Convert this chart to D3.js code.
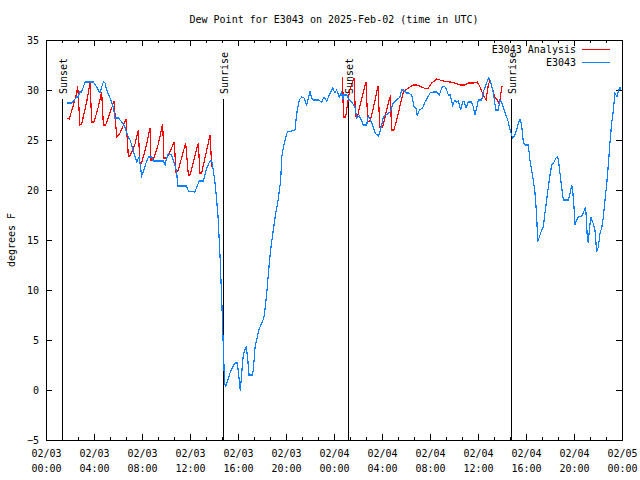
<!DOCTYPE html>
<html><head><meta charset="utf-8">
<script src="https://cdn.jsdelivr.net/npm/d3@7"></script>
<style>
body{margin:0;background:#fff;}
text{font-family:"DejaVu Sans Mono",monospace;font-size:10px;fill:#000;}
</style></head><body>
<svg id="c" width="640" height="480"></svg>
<script>
// ---- data (hours since 2025-02-03 00:00 UTC) ----
const obsHours = [1.78,2.14,2.28,2.56,2.69,2.83,2.97,3.11,3.25,3.94,4.22,4.5,4.64,4.78,4.92,5.06,5.33,5.61,5.75,6.03,6.31,6.58,6.86,7.0,7.22,7.42,7.56,7.75,7.83,7.97,8.11,8.33,8.53,8.81,8.94,9.78,9.92,10.06,10.19,10.47,10.61,10.75,10.89,10.97,11.72,11.86,12.42,12.56,12.78,13.11,13.39,13.67,13.81,13.94,14.08,14.22,14.36,14.44,14.53,14.61,14.69,14.75,14.81,14.86,14.94,15.11,15.33,15.56,15.75,15.94,16.08,16.19,16.31,16.44,16.58,16.67,16.78,16.92,17.19,17.28,17.42,17.56,17.69,17.83,18.03,18.17,18.31,18.44,18.58,18.72,18.86,19.0,19.14,19.28,19.42,19.56,19.64,19.78,19.92,20.11,20.75,20.83,20.94,21.11,21.31,21.5,21.72,21.86,22.0,22.14,22.28,22.69,22.97,23.17,23.39,23.61,23.89,24.08,24.22,24.44,24.64,24.72,24.83,25.06,25.28,25.47,25.75,25.89,26.11,26.31,26.44,26.72,26.86,27.0,27.28,27.42,27.69,27.83,27.97,28.11,28.67,28.94,29.22,29.5,29.64,29.83,30.0,30.19,30.47,30.67,30.83,30.94,31.11,31.39,31.58,31.78,32.0,32.33,32.56,32.78,32.97,33.17,33.33,33.53,33.67,33.89,34.08,34.22,34.36,34.56,34.72,34.83,35.0,35.19,35.47,35.61,35.75,35.89,36.03,36.31,36.5,36.72,36.89,37.0,37.14,37.28,37.42,37.5,37.69,37.83,37.97,38.11,38.39,38.53,38.67,38.89,39.08,39.22,39.36,39.5,39.64,39.78,39.92,40.19,40.33,40.47,40.61,40.75,40.89,40.97,41.11,41.31,41.44,41.58,41.72,41.86,42.0,42.14,42.33,42.5,42.64,42.72,42.83,42.97,43.11,43.53,43.67,43.81,43.89,44.0,44.08,44.22,44.36,44.64,44.78,44.92,45.0,45.11,45.19,45.28,45.39,45.56,45.75,45.89,46.03,46.17,46.31,46.44,46.58,46.72,46.86,47.0,47.14,47.28,47.42,47.58,47.72,47.83,47.92];
const obsValues = [28.7,28.7,28.9,29.3,29.3,29.8,29.8,30.3,30.8,30.8,30.3,29.7,30.3,30.8,30.7,30.0,29.2,28.3,27.2,27.2,26.8,26.3,25.3,25.0,24.2,23.3,22.8,23.3,22.7,21.4,21.8,22.7,23.3,23.3,22.9,22.9,22.5,23.2,23.6,23.5,22.9,22.5,21.8,20.4,20.4,19.9,19.8,20.3,20.9,20.9,22.2,22.9,22.9,22.0,20.8,19.0,17.0,14.8,12.7,10.0,7.5,5.2,3.2,1.2,0.3,0.8,1.7,2.3,2.7,2.7,1.3,-0.1,1.7,3.5,4.0,4.3,3.5,1.5,1.5,2.0,4.3,5.0,5.8,6.3,6.8,7.3,8.7,10.3,12.3,14.0,15.3,16.5,17.7,18.5,19.7,21.0,23.3,24.2,25.0,25.8,26.0,27.0,28.0,29.0,29.3,29.2,28.5,29.2,29.9,29.2,29.0,29.0,28.8,29.3,28.9,29.5,30.2,29.7,30.0,29.3,29.8,29.0,29.5,29.5,29.0,28.8,28.3,27.2,27.4,26.9,26.5,26.5,27.4,27.1,26.3,25.7,25.4,25.8,26.5,27.3,27.8,28.7,29.0,29.3,30.0,30.0,29.7,29.7,29.5,28.3,28.2,27.4,28.0,28.2,28.8,29.2,29.7,29.8,29.8,29.5,30.2,30.4,30.2,29.5,29.5,28.5,29.0,28.8,28.9,28.0,28.8,28.9,28.2,28.8,28.8,28.3,27.5,28.2,29.0,29.0,30.0,30.7,31.2,31.0,30.4,29.7,28.5,28.0,28.0,29.0,28.8,28.2,27.3,26.8,26.0,25.2,25.5,26.0,26.7,27.1,26.5,24.7,24.5,24.5,23.0,22.0,21.0,19.7,17.5,14.8,15.3,16.0,16.3,17.7,19.0,20.3,21.5,22.5,22.8,23.2,23.3,22.8,21.7,20.3,19.0,19.0,19.7,20.5,20.0,18.3,16.5,17.0,17.3,17.4,17.7,18.2,17.7,15.2,14.7,16.0,17.3,16.8,16.0,13.8,14.3,15.7,16.2,17.2,19.0,20.5,22.5,24.8,26.7,28.0,29.7,29.3,30.0,30.3,30.0];

const anaHours1 = [1.78,1.94,2.28,2.56,2.64,2.83,2.97,3.39,3.67,3.81,4.0,4.36,4.64,4.78,4.97,5.33,5.67,5.89,6.17,6.67,6.86,7.0,7.42,7.69,7.83,7.97,8.33,8.67,8.75,8.94,9.36,9.72,9.83,10.06,10.47,10.69,10.83,11.0,11.64,11.86,12.0,12.69,12.83,12.97,13.67,13.81,13.94];
const anaValues1 = [27.2,27.1,28.5,29.7,30.4,26.5,26.6,28.8,30.7,26.8,26.8,28.3,29.8,26.5,26.5,27.7,28.9,25.3,25.7,27.1,23.4,23.4,24.6,26.0,22.7,22.7,24.3,26.2,23.0,23.0,24.6,26.6,23.2,23.2,24.2,24.8,21.8,21.9,24.7,21.5,21.5,24.7,21.7,21.7,25.5,22.4,22.4];
const anaHours2 = [24.72,24.78,24.97,25.28,25.67,25.79,25.97,26.17,26.44,26.67,26.81,27.0,27.28,27.67,27.81,28.06,28.39,28.71,28.79,29.0,29.36,29.78,30.19,30.61,30.89,31.31,31.67,31.86,32.14,32.56,33.11,33.67,34.08,34.5,34.92,35.19,35.61,35.94,36.17,36.44,36.67,36.86,37.0,37.14,37.28,37.42,37.61,37.78,37.89,38.0];
const anaValues2 = [31.3,27.3,27.3,29.8,31.2,27.4,27.4,28.5,29.8,30.8,26.8,26.9,28.2,30.4,26.3,26.3,28.0,29.5,26.0,26.0,27.7,29.8,30.2,30.5,30.5,30.3,30.1,30.2,30.7,31.1,30.9,30.8,30.7,30.5,30.5,30.7,30.7,30.8,30.3,29.5,29.0,30.5,31.0,30.4,29.8,29.3,29.0,28.6,29.5,30.4];

const sunEvents = [
  {label:"Sunset",  time:"2025-02-03T01:19:00Z"},
  {label:"Sunrise", time:"2025-02-03T14:47:00Z"},
  {label:"Sunset",  time:"2025-02-04T01:11:00Z"},
  {label:"Sunrise", time:"2025-02-04T14:44:00Z"}
];
const yTicks = [-5,0,5,10,15,20,25,30,35];
const title = "Dew Point for E3043 on 2025-Feb-02 (time in UTC)";
const yLabel = "degrees F";
const seriesNames = ["E3043 Analysis","E3043"];
const seriesColors = ["#ff0000","#1080ff"];

// ---- chart ----
const t0 = Date.UTC(2025,1,3,0,0);
const toDate = h => new Date(t0 + h*3600000);
const L=46,R=622,T=40,B=440;
const svg = d3.select("#c");
const x = d3.scaleUtc().domain([toDate(0), toDate(48)]).range([L,R]);
const y = d3.scaleLinear().domain([-5,35]).range([B,T]);

const major = d3.range(0,48.001,4).map(toDate);
const minor = d3.range(0,48.001,4/3).map(toDate);

// title & y label
svg.append("text").attr("x",(L+R)/2).attr("y",23).attr("text-anchor","middle").text(title);
svg.append("text").attr("transform","translate(15,240) rotate(-90)").attr("text-anchor","middle").text(yLabel);

function styleAxis(g){ g.select(".domain").remove(); g.selectAll("line").attr("stroke","#000").attr("shape-rendering","crispEdges"); }

// minor ticks bottom/top
svg.append("g").attr("transform",`translate(0,${B})`).call(d3.axisBottom(x).tickValues(minor).tickSize(-3).tickFormat("")).call(styleAxis);
svg.append("g").attr("transform",`translate(0,${T})`).call(d3.axisTop(x).tickValues(minor).tickSize(-3).tickFormat("")).call(styleAxis);
// major ticks bottom with two-line labels
const xb = svg.append("g").attr("transform",`translate(0,${B})`)
  .call(d3.axisBottom(x).tickValues(major).tickSize(-6).tickPadding(9).tickFormat(d3.utcFormat("%m/%d")))
  .call(styleAxis);
xb.selectAll(".tick text").each(function(d){
  const t = d3.select(this); t.text(null).attr("font-family",null).attr("font-size",null);
  t.append("tspan").attr("x",0).attr("dy","0.71em").text(d3.utcFormat("%m/%d")(d));
  t.append("tspan").attr("x",0).attr("dy","1.5em").text(d3.utcFormat("%H:%M")(d));
}).attr("dy",null).attr("y",10);
svg.append("g").attr("transform",`translate(0,${T})`).call(d3.axisTop(x).tickValues(major).tickSize(-6).tickFormat("")).call(styleAxis);
// y axes
const yl = svg.append("g").attr("transform",`translate(${L},0)`)
  .call(d3.axisLeft(y).tickValues(yTicks).tickSize(-6).tickPadding(7)).call(styleAxis);
yl.selectAll("text").attr("font-family",null).attr("font-size",null);
svg.append("g").attr("transform",`translate(${R},0)`).call(d3.axisRight(y).tickValues(yTicks).tickSize(-6).tickFormat("")).call(styleAxis);
svg.selectAll(".tick text").attr("fill","#000");
svg.selectAll("g").attr("font-family",null).attr("font-size",null);

// frame
svg.append("rect").attr("x",L).attr("y",T).attr("width",R-L).attr("height",B-T)
  .attr("fill","none").attr("stroke","#000").attr("shape-rendering","crispEdges");

// sun events
sunEvents.forEach(e=>{
  const xx = Math.round(x(new Date(e.time)))+0.5;
  svg.append("line").attr("x1",xx).attr("x2",xx).attr("y1",99).attr("y2",B).attr("stroke","#000").attr("shape-rendering","crispEdges");
  svg.append("text").attr("transform",`translate(${xx+4},94) rotate(-90)`).text(e.label);
});

// lines
const line = d3.line().x(d=>x(toDate(d[0]))).y(d=>y(d[1]));
const ana1 = anaHours1.map((h,i)=>[h,anaValues1[i]]);
const ana2 = anaHours2.map((h,i)=>[h,anaValues2[i]]);
const obs = obsHours.map((h,i)=>[h,obsValues[i]]);
[ana1,ana2].forEach(s=>svg.append("path").attr("d",line(s)).attr("fill","none").attr("stroke",seriesColors[0]).attr("stroke-width",1.2).attr("shape-rendering","crispEdges"));
svg.append("path").attr("d",line(obs)).attr("fill","none").attr("stroke",seriesColors[1]).attr("stroke-width",1.2).attr("shape-rendering","crispEdges");

// legend
seriesNames.forEach((n,i)=>{
  const ly = 49 + i*13;
  svg.append("text").attr("x",576).attr("y",ly+4).attr("text-anchor","end").text(n);
  svg.append("line").attr("x1",582).attr("x2",610).attr("y1",ly+0.5).attr("y2",ly+0.5).attr("stroke",seriesColors[i]).attr("shape-rendering","crispEdges");
});
</script></body></html>
